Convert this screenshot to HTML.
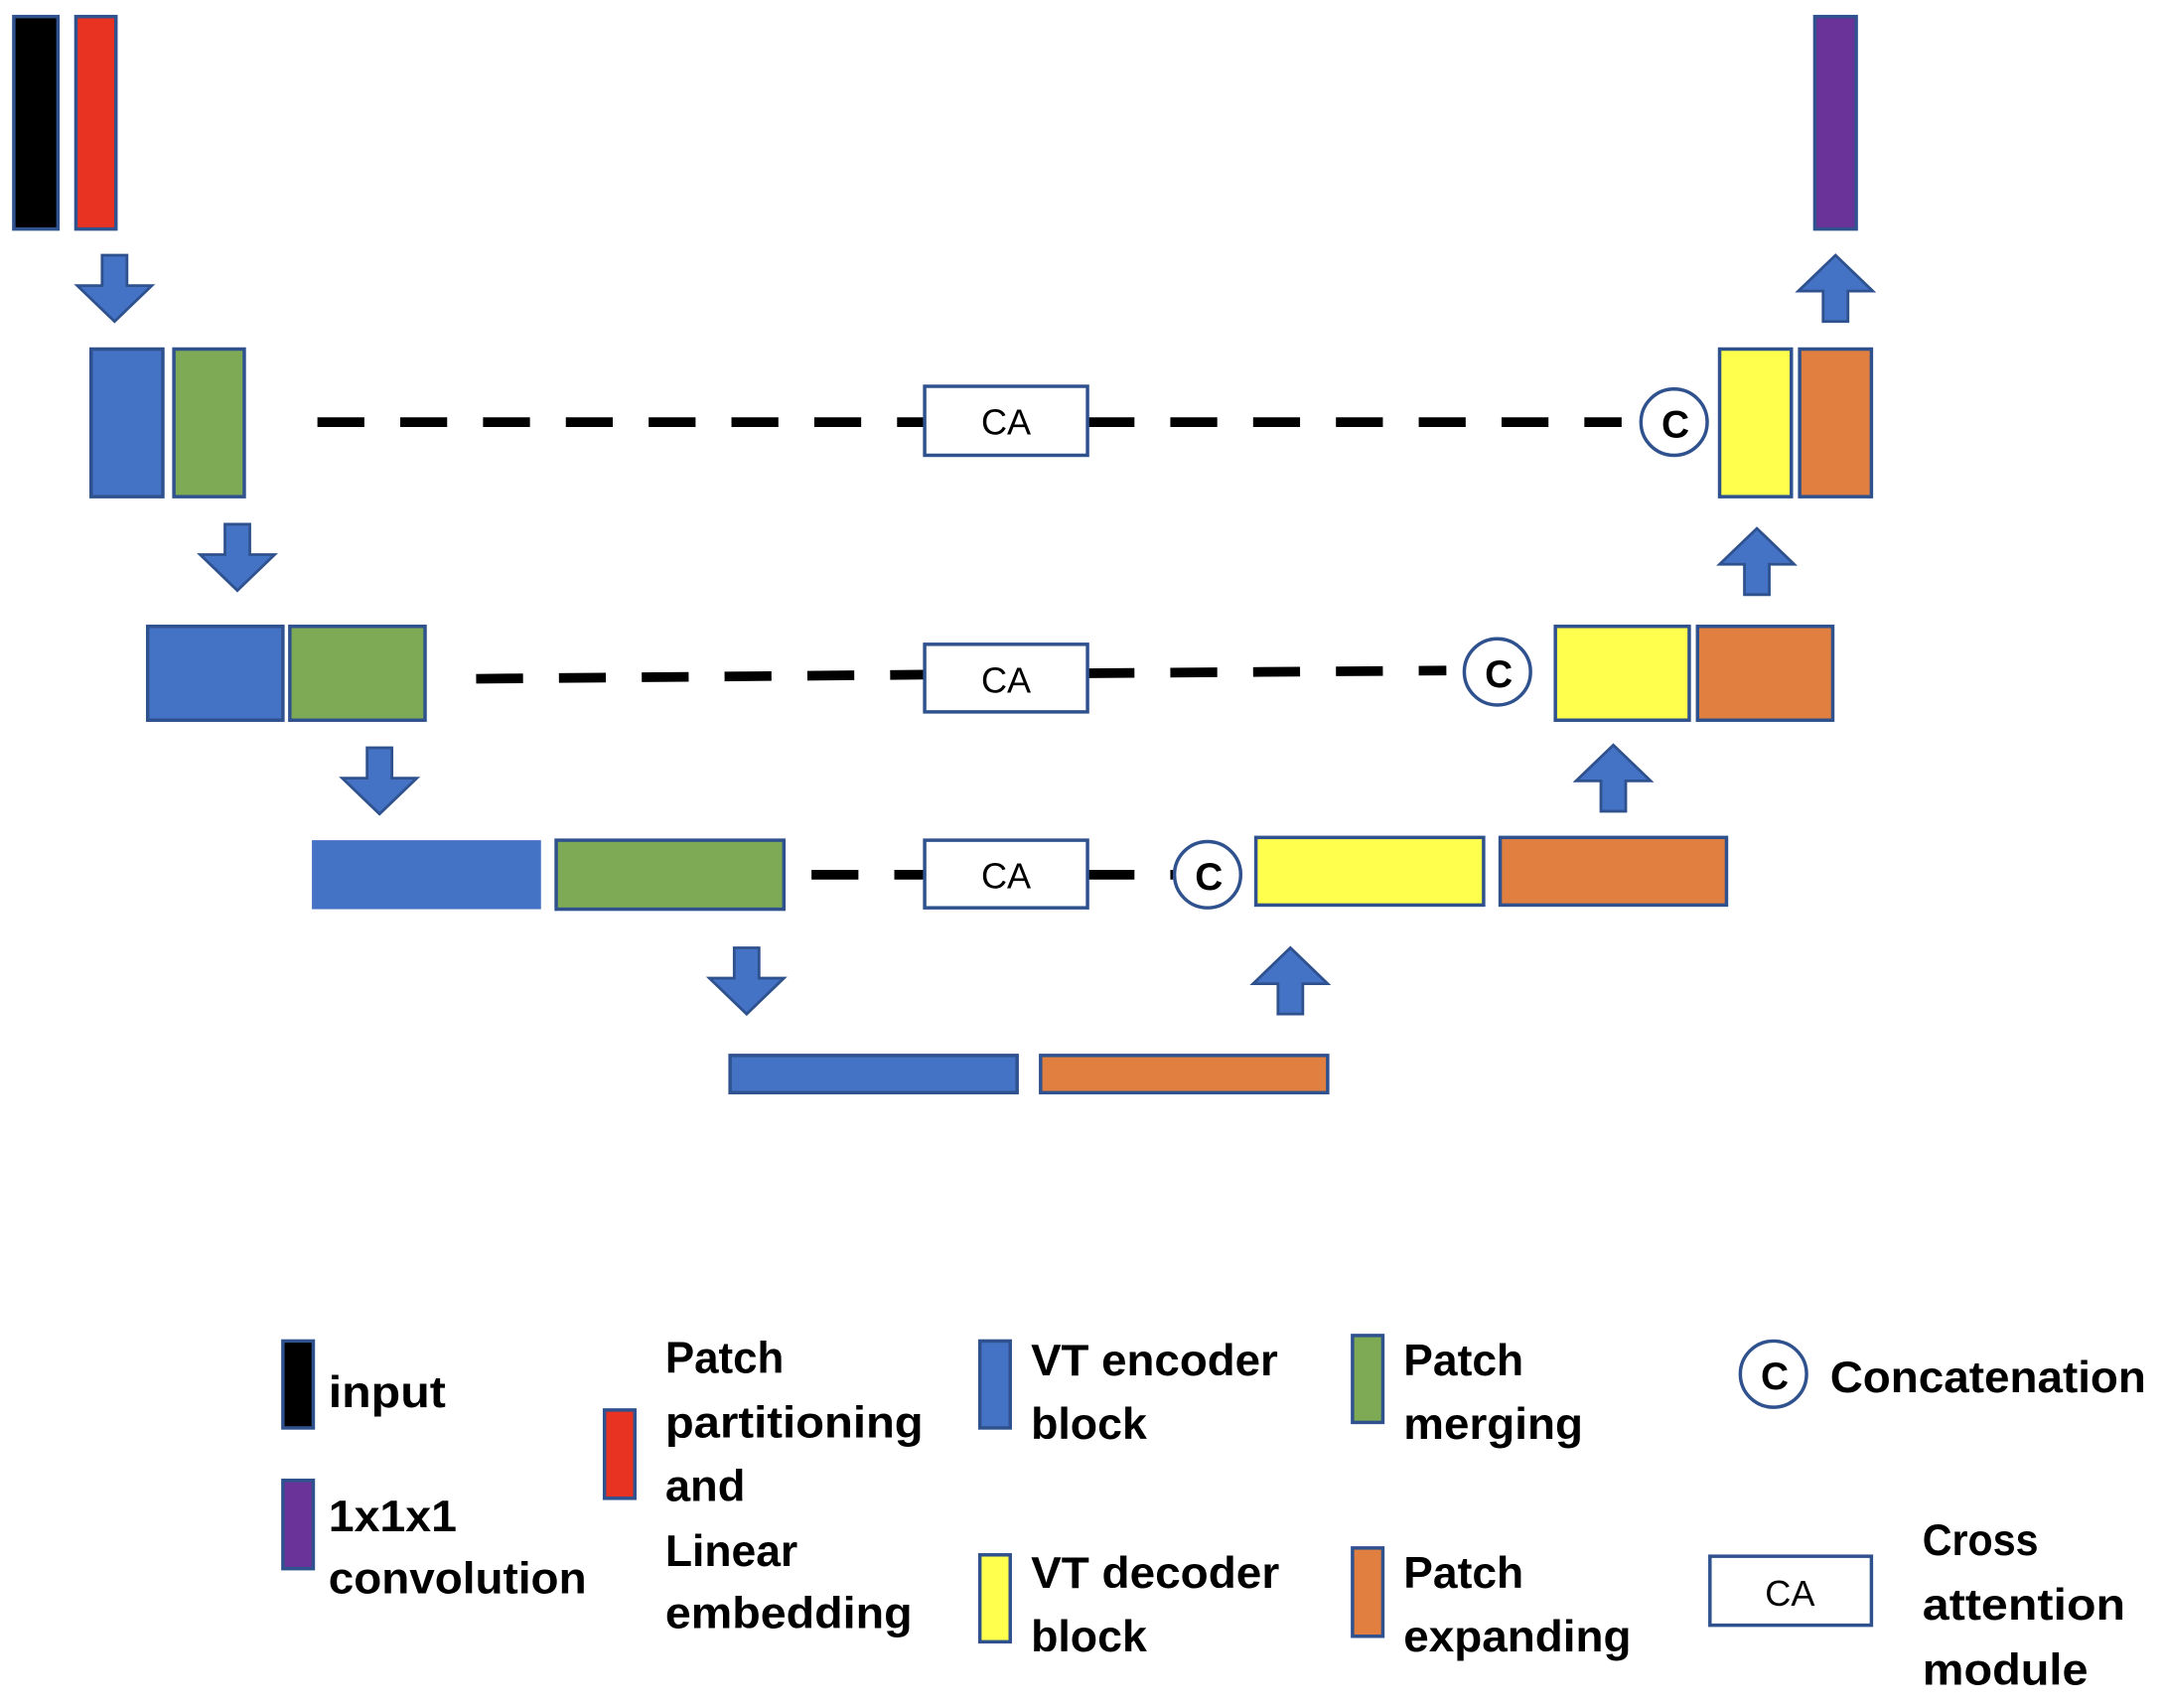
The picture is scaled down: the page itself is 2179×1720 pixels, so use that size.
<!DOCTYPE html>
<html><head><meta charset="utf-8"><style>html,body{margin:0;padding:0;background:#fff}svg{display:block}</style></head>
<body>
<svg width="2179" height="1720" viewBox="0 0 1568 1238" preserveAspectRatio="none" xmlns="http://www.w3.org/2000/svg">
<g stroke="#2F528F" stroke-width="2.5">
<rect x="10" y="12" width="32" height="154" fill="#000"/>
<rect x="55" y="12" width="29" height="154" fill="#E83323"/>
<rect x="1315" y="12" width="30" height="154" fill="#6A339A"/>
<rect x="66" y="253" width="52" height="107" fill="#4472C4"/>
<rect x="126" y="253" width="51" height="107" fill="#7FAA55"/>
<rect x="1246" y="253" width="52" height="107" fill="#FFFF4D"/>
<rect x="1304" y="253" width="52" height="107" fill="#E07F40"/>
<rect x="107" y="454" width="98" height="68" fill="#4472C4"/>
<rect x="210" y="454" width="98" height="68" fill="#7FAA55"/>
<rect x="1127" y="454" width="97" height="68" fill="#FFFF4D"/>
<rect x="1230" y="454" width="98" height="68" fill="#E07F40"/>
<rect x="226" y="609" width="166" height="50" fill="#4472C4" stroke="none"/>
<rect x="403" y="609" width="165" height="50" fill="#7FAA55"/>
<rect x="910" y="607" width="165" height="49" fill="#FFFF4D"/>
<rect x="1087" y="607" width="164" height="49" fill="#E07F40"/>
<rect x="529" y="765" width="208" height="27" fill="#4472C4"/>
<rect x="754" y="765" width="208" height="27" fill="#E07F40"/>
</g>
<g stroke="#000" stroke-width="7" stroke-dasharray="34 26" fill="none">
<line x1="230" y1="306" x2="670" y2="306"/>
<line x1="788" y1="306" x2="1175" y2="306"/>
<line x1="345" y1="492" x2="670" y2="489"/>
<line x1="788" y1="488" x2="1048" y2="486"/>
<line x1="588" y1="634" x2="670" y2="634"/>
<line x1="788" y1="634" x2="850" y2="634"/>
</g>
<g stroke="#2F528F" stroke-width="2.5" fill="#fff">
<rect x="670" y="280" width="118" height="50"/>
<rect x="670" y="467" width="118" height="49"/>
<rect x="670" y="609" width="118" height="49"/>
<circle cx="1213" cy="306" r="24"/>
<circle cx="1085" cy="487" r="24"/>
<circle cx="875" cy="634" r="24"/>
<circle cx="1285" cy="996" r="24"/>
<rect x="1239" y="1128" width="117" height="50"/>
</g>
<g font-family="Liberation Sans, sans-serif" font-size="26" text-anchor="middle">
<text x="729" y="315">CA</text>
<text x="729" y="502">CA</text>
<text x="729" y="644">CA</text>
<text x="1297" y="1164">CA</text>
</g>
<g font-family="Liberation Sans, sans-serif" font-size="28" font-weight="bold" text-anchor="middle">
<text x="1214" y="317">C</text>
<text x="1086" y="498">C</text>
<text x="876" y="645">C</text>
<text x="1286" y="1007">C</text>
</g>
<g fill="#4472C4" stroke="#2F528F" stroke-width="2">
<path d="M74,185h18v22h18l-27,26l-27,-26h18z"/>
<path d="M163,380h18v22h18l-27,26l-27,-26h18z"/>
<path d="M266,542h18v22h18l-27,26l-27,-26h18z"/>
<path d="M532,687h18v22h18l-27,26l-27,-26h18z"/>
<path d="M926,735h18v-22h18l-27,-26l-27,26h18z"/>
<path d="M1160,588h18v-22h18l-27,-26l-27,26h18z"/>
<path d="M1264,431h18v-22h18l-27,-26l-27,26h18z"/>
<path d="M1321,233h18v-22h18l-27,-26l-27,26h18z"/>
</g>
<g stroke="#2F528F" stroke-width="2.5">
<rect x="205" y="972" width="22" height="63" fill="#000"/>
<rect x="205" y="1073" width="22" height="64" fill="#6A339A"/>
<rect x="438" y="1022" width="22" height="64" fill="#E83323"/>
<rect x="710" y="972" width="22" height="63" fill="#4472C4"/>
<rect x="710" y="1127" width="22" height="63" fill="#FFFF4D"/>
<rect x="980" y="968" width="22" height="63" fill="#7FAA55"/>
<rect x="980" y="1122" width="22" height="64" fill="#E07F40"/>
</g>
<g font-family="Liberation Sans, sans-serif" font-size="32" font-weight="bold" lengthAdjust="spacingAndGlyphs">
<text x="238" y="1020" textLength="85" lengthAdjust="spacingAndGlyphs">input</text>
<text x="238" y="1110" textLength="93" lengthAdjust="spacingAndGlyphs">1x1x1</text>
<text x="238" y="1155" textLength="187" lengthAdjust="spacingAndGlyphs">convolution</text>
<text x="482" y="995" textLength="86" lengthAdjust="spacingAndGlyphs">Patch</text>
<text x="482" y="1042" textLength="187" lengthAdjust="spacingAndGlyphs">partitioning</text>
<text x="482" y="1088" textLength="58" lengthAdjust="spacingAndGlyphs">and</text>
<text x="482" y="1135" textLength="96" lengthAdjust="spacingAndGlyphs">Linear</text>
<text x="482" y="1180" textLength="179" lengthAdjust="spacingAndGlyphs">embedding</text>
<text x="747" y="997" textLength="179" lengthAdjust="spacingAndGlyphs">VT encoder</text>
<text x="747" y="1043" textLength="84" lengthAdjust="spacingAndGlyphs">block</text>
<text x="747" y="1151" textLength="180" lengthAdjust="spacingAndGlyphs">VT decoder</text>
<text x="747" y="1197" textLength="84" lengthAdjust="spacingAndGlyphs">block</text>
<text x="1017" y="997" textLength="87" lengthAdjust="spacingAndGlyphs">Patch</text>
<text x="1017" y="1043" textLength="130" lengthAdjust="spacingAndGlyphs">merging</text>
<text x="1017" y="1151" textLength="87" lengthAdjust="spacingAndGlyphs">Patch</text>
<text x="1017" y="1197" textLength="165" lengthAdjust="spacingAndGlyphs">expanding</text>
<text x="1326" y="1009" textLength="229" lengthAdjust="spacingAndGlyphs">Concatenation</text>
<text x="1393" y="1127" textLength="84" lengthAdjust="spacingAndGlyphs">Cross</text>
<text x="1393" y="1174" textLength="147" lengthAdjust="spacingAndGlyphs">attention</text>
<text x="1393" y="1221" textLength="120" lengthAdjust="spacingAndGlyphs">module</text>
</g>
</svg>
</body></html>
